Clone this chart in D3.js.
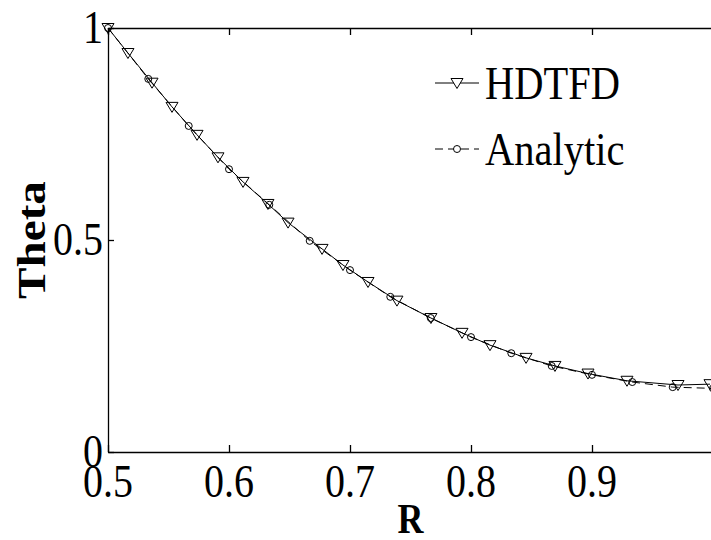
<!DOCTYPE html>
<html>
<head>
<meta charset="utf-8">
<script src="https://cdn.jsdelivr.net/npm/d3@7"></script>
<style>
  html, body { margin: 0; padding: 0; background: #fff; overflow: hidden; }
  svg { display: block; }
</style>
</head>
<body>
<svg id="chart" width="711" height="540"></svg>
<script>
// HDTFD (numerical) points
var hdtfdR = [0.5, 0.5165, 0.5364, 0.5529, 0.5736, 0.5909, 0.6116, 0.6322, 0.6488, 0.6769, 0.6942,
              0.7149, 0.7388, 0.7669, 0.7926, 0.8157, 0.8455, 0.8694, 0.8967, 0.9289, 0.9711, 0.9975];
var hdtfdTheta = [1.0, 0.941, 0.871, 0.814, 0.748, 0.695, 0.637, 0.585, 0.541, 0.479, 0.441,
                  0.401, 0.357, 0.316, 0.281, 0.252, 0.222, 0.203, 0.185, 0.168, 0.158, 0.160];

// Analytic solution points
var analyticR = [0.5, 0.5333, 0.5667, 0.6, 0.6333, 0.6667, 0.7, 0.7333, 0.7667, 0.8, 0.8333,
                 0.8667, 0.9, 0.9333, 0.9667, 1.0];
var analyticTheta = [1.0, 0.880, 0.769, 0.667, 0.583, 0.498, 0.429, 0.366, 0.316, 0.271, 0.233,
                     0.203, 0.182, 0.165, 0.153, 0.150];

var xTicks = [0.5, 0.6, 0.7, 0.8, 0.9];
var yTicks = [0, 0.5, 1];
var yTickLabels = ["0", "0.5", "1"];
var seriesNames = ["HDTFD", "Analytic"];

var svg = d3.select("#chart");
var font = "'Liberation Serif', 'Times New Roman', serif";
var stretch = 1.15;   // text in the picture is a bit taller than wide

var x = d3.scaleLinear().domain([0.5, 1]).range([108, 713]);
var y = d3.scaleLinear().domain([0, 1]).range([452, 28]);

// axes, ticks pointing inward
var bottomAxis = svg.append("g").attr("transform", "translate(0," + y(0) + ")")
    .call(d3.axisBottom(x).tickValues(xTicks).tickSizeInner(-7).tickSizeOuter(0).tickFormat(""));
var topAxis = svg.append("g").attr("transform", "translate(0," + y(1) + ")")
    .call(d3.axisTop(x).tickValues(xTicks).tickSizeInner(-7).tickSizeOuter(0).tickFormat(""));
var leftAxis = svg.append("g").attr("transform", "translate(" + x(0.5) + ",0)")
    .call(d3.axisLeft(y).tickValues(yTicks).tickSizeInner(-6).tickSizeOuter(0).tickFormat(""));

[bottomAxis, topAxis, leftAxis].forEach(function(a) {
    a.selectAll("path, line").attr("stroke", "#000").attr("stroke-width", 1.3);
});

// tick labels
xTicks.forEach(function(t) {
    svg.append("text")
        .attr("transform", "translate(" + x(t) + ",497) scale(1," + stretch + ")")
        .attr("text-anchor", "middle")
        .style("font-family", font).style("font-size", "40px")
        .text(d3.format(".1f")(t));
});
yTicks.forEach(function(t, i) {
    svg.append("text")
        .attr("transform", "translate(103," + (y(t) + 15) + ") scale(1," + stretch + ")")
        .attr("text-anchor", "end")
        .style("font-family", font).style("font-size", "40px")
        .text(yTickLabels[i]);
});

// axis titles
svg.append("text")
    .attr("transform", "translate(" + ((x(0.5) + x(1)) / 2) + ",533) scale(1," + stretch + ")")
    .attr("text-anchor", "middle")
    .style("font-family", font).style("font-size", "36px").style("font-weight", "bold")
    .text("R");
svg.append("text")
    .attr("transform", "translate(45," + y(0.5) + ") rotate(-90) scale(" + stretch + ",1)")
    .attr("text-anchor", "middle")
    .style("font-family", font).style("font-size", "41px").style("font-weight", "bold")
    .text("Theta");

var triangle = "M-6,-4.5L6,-4.5L0,5.5Z";

var hdtfd = hdtfdR.map(function(r, i) { return [r, hdtfdTheta[i]]; });
var analytic = analyticR.map(function(r, i) { return [r, analyticTheta[i]]; });

var line = d3.line().x(function(d) { return x(d[0]); }).y(function(d) { return y(d[1]); });

// Analytic: dashed line with circles
svg.append("path").datum(analytic)
    .attr("d", line).attr("fill", "none").attr("stroke", "#000")
    .attr("stroke-width", 1).attr("stroke-dasharray", "8,5");

// HDTFD: solid line with down triangles
svg.append("path").datum(hdtfd)
    .attr("d", line).attr("fill", "none").attr("stroke", "#000").attr("stroke-width", 1);

svg.selectAll(".tri").data(hdtfd).enter().append("path")
    .attr("class", "tri")
    .attr("transform", function(d) { return "translate(" + x(d[0]) + "," + y(d[1]) + ")"; })
    .attr("d", triangle).attr("fill", "none").attr("stroke", "#000").attr("stroke-width", 1);

svg.selectAll(".circ").data(analytic).enter().append("circle")
    .attr("class", "circ")
    .attr("cx", function(d) { return x(d[0]); })
    .attr("cy", function(d) { return y(d[1]); })
    .attr("r", 3.5).attr("fill", "none").attr("stroke", "#000").attr("stroke-width", 1);

// legend
var legend = svg.append("g");
var rows = [{ y: 83, dash: null, marker: "tri" }, { y: 149, dash: "8,5", marker: "circ" }];
rows.forEach(function(row, i) {
    legend.append("line")
        .attr("x1", 435).attr("x2", 479).attr("y1", row.y).attr("y2", row.y)
        .attr("stroke", "#000").attr("stroke-width", 1)
        .attr("stroke-dasharray", row.dash);
    if (row.marker === "tri") {
        legend.append("path").attr("transform", "translate(457," + row.y + ")")
            .attr("d", triangle).attr("fill", "#fff").attr("stroke", "#000");
    } else {
        legend.append("circle").attr("cx", 457).attr("cy", row.y).attr("r", 3.5)
            .attr("fill", "#fff").attr("stroke", "#000");
    }
    legend.append("text")
        .attr("transform", "translate(485," + (row.y + 16) + ") scale(1," + stretch + ")")
        .style("font-family", font).style("font-size", "40.5px")
        .text(seriesNames[i]);
});
</script>
</body>
</html>
